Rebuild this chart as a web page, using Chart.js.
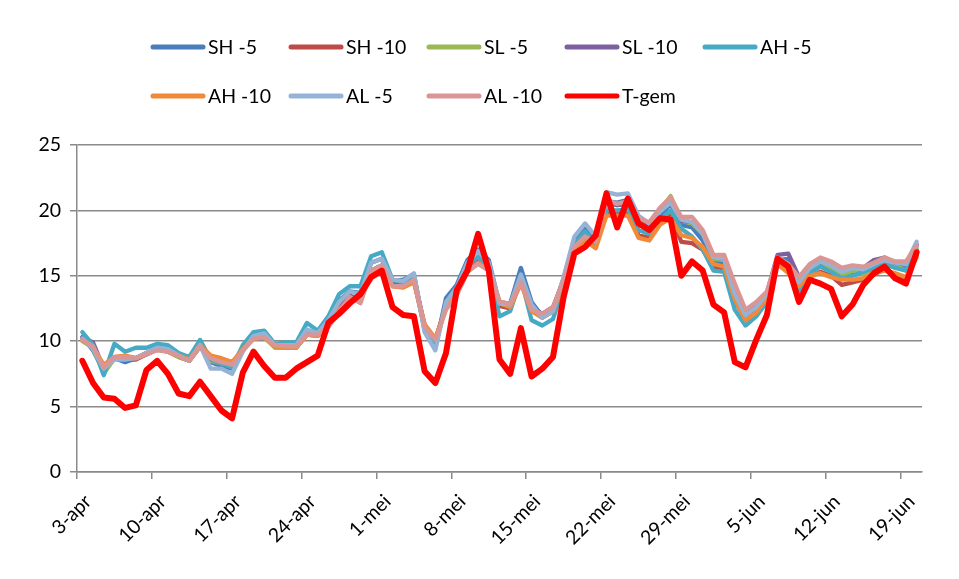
<!DOCTYPE html>
<html>
<head>
<meta charset="utf-8">
<script src="https://cdn.jsdelivr.net/npm/chart.js@4.4.1/dist/chart.umd.min.js"></script>
<style>
  html, body { margin: 0; padding: 0; background: #ffffff; }
  canvas { display: block; }
</style>
</head>
<body>
<canvas id="chart" width="959" height="579"></canvas>
<script>
// Daily temperatures, 3 April to 20 June (79 days)
const tickLabels = ['3-apr', '10-apr', '17-apr', '24-apr', '1-mei', '8-mei', '15-mei', '22-mei', '29-mei', '5-jun', '12-jun', '19-jun'];
const tickDays = [0, 7, 14, 21, 28, 35, 42, 49, 56, 63, 70, 77];

const seriesNames = ['SH -5', 'SH -10', 'SL -5', 'SL -10', 'AH -5', 'AH -10', 'AL -5', 'AL -10', 'T-gem'];
const seriesColors = ['#4a7ebb', '#be4b48', '#98b954', '#7d60a0', '#46aac5', '#f08a38', '#95b3d7', '#d99694', '#ff0000'];

const sh5 = [10.3, 9.3, 7.7, 8.7, 8.4, 8.7, 9.1, 9.5, 9.3, 8.9, 8.6, 9.8, 8.4, 8.1, 7.9, 9.4, 10.4, 10.5, 9.6, 9.6,
  9.6, 10.8, 10.6, 11.5, 13.1, 13.8, 13.7, 16.0, 16.3, 14.6, 14.7, 15.1, 10.9, 9.5, 13.3, 14.3, 16.2, 17.0, 16.2, 12.8,
  12.9, 15.6, 13.0, 11.9, 12.4, 14.8, 17.8, 18.7, 17.6, 20.7, 20.6, 20.8, 18.9, 18.6, 19.6, 20.5, 18.9, 18.7, 17.7, 16.2,
  15.9, 13.4, 11.8, 12.4, 13.5, 16.2, 16.3, 14.4, 15.5, 15.9, 15.5, 14.9, 15.1, 15.2, 15.7, 16.0, 15.8, 15.6, 17.3];
const sh10 = [10.2, 9.6, 7.8, 8.7, 8.6, 8.6, 9.0, 9.4, 9.2, 8.8, 8.5, 9.6, 8.6, 8.3, 8.1, 9.3, 10.2, 10.3, 9.6, 9.5,
  9.5, 10.5, 10.4, 11.1, 12.4, 13.4, 13.2, 15.3, 15.7, 14.3, 14.2, 14.6, 11.0, 10.0, 12.7, 13.7, 15.5, 16.2, 15.6, 12.7,
  12.5, 14.6, 12.4, 11.8, 12.3, 14.5, 17.1, 17.9, 17.3, 19.9, 19.8, 19.9, 18.1, 17.9, 19.0, 19.6, 17.6, 17.5, 17.0, 15.7,
  15.5, 13.1, 11.7, 12.3, 13.4, 16.0, 15.5, 14.1, 14.9, 15.3, 15.0, 14.3, 14.5, 14.7, 15.1, 15.5, 15.1, 14.7, 16.6];
const sl5 = [10.0, 9.5, 7.5, 8.7, 8.7, 8.7, 9.0, 9.4, 9.2, 8.8, 8.5, 9.6, 8.5, 8.3, 8.1, 9.3, 10.2, 10.3, 9.5, 9.5,
  9.5, 10.5, 10.4, 11.2, 12.5, 13.4, 13.1, 15.4, 15.8, 14.3, 14.3, 14.7, 11.2, 10.1, 12.6, 13.7, 15.4, 16.1, 15.5, 12.9,
  12.7, 14.7, 12.5, 11.9, 12.4, 14.6, 17.3, 18.2, 17.6, 20.6, 20.4, 20.6, 19.0, 18.8, 20.0, 21.1, 19.2, 19.0, 18.2, 16.3,
  16.2, 13.8, 12.0, 12.7, 13.6, 16.2, 15.8, 14.6, 15.5, 16.1, 15.6, 15.0, 15.4, 15.1, 15.6, 15.9, 15.8, 15.4, 17.1];
const sl10 = [10.3, 9.9, 7.9, 8.7, 8.8, 8.7, 9.0, 9.4, 9.3, 8.9, 8.5, 9.6, 8.6, 8.4, 8.2, 9.4, 10.3, 10.4, 9.7, 9.6,
  9.6, 10.6, 10.5, 11.2, 12.5, 13.5, 13.1, 15.4, 15.8, 14.3, 14.3, 14.8, 11.2, 10.1, 12.7, 13.7, 15.5, 16.2, 15.6, 13.0,
  12.8, 14.8, 12.6, 12.1, 12.6, 14.7, 17.3, 18.1, 17.5, 20.6, 20.4, 20.5, 19.2, 18.9, 20.1, 20.8, 19.2, 19.1, 18.2, 16.4,
  16.3, 14.0, 12.2, 12.8, 13.7, 16.6, 16.7, 14.9, 15.8, 16.3, 16.0, 15.4, 15.7, 15.6, 16.2, 16.4, 16.0, 15.9, 17.4];
const ah5 = [10.7, 9.7, 7.4, 9.8, 9.2, 9.5, 9.5, 9.8, 9.7, 9.1, 8.8, 10.1, 8.6, 8.3, 8.0, 9.7, 10.7, 10.8, 9.8, 9.9,
  9.9, 11.4, 10.8, 11.9, 13.6, 14.2, 14.2, 16.5, 16.8, 14.7, 14.5, 15.0, 10.8, 9.6, 12.9, 14.0, 15.8, 16.5, 15.6, 11.9,
  12.3, 14.8, 11.6, 11.2, 11.7, 14.2, 17.4, 18.4, 17.4, 20.0, 20.0, 20.1, 18.5, 18.2, 19.3, 20.0, 18.6, 18.0, 17.0, 15.4,
  15.3, 12.4, 11.2, 11.9, 13.0, 16.0, 15.5, 13.8, 15.2, 15.7, 15.3, 14.8, 15.0, 15.3, 15.6, 15.9, 15.6, 15.4, 17.0];
const ah10 = [10.1, 9.5, 8.2, 8.8, 8.9, 8.7, 9.1, 9.4, 9.2, 8.9, 8.6, 9.7, 8.9, 8.7, 8.4, 9.4, 10.2, 10.3, 9.6, 9.5,
  9.5, 10.5, 10.4, 11.2, 12.4, 13.3, 13.1, 15.2, 15.6, 14.2, 14.1, 14.5, 11.3, 10.2, 12.5, 13.6, 15.3, 16.0, 15.4, 12.9,
  12.6, 14.4, 12.3, 11.8, 12.3, 14.4, 17.0, 17.7, 17.1, 19.6, 19.6, 19.6, 17.9, 17.7, 18.9, 19.4, 18.1, 17.9, 17.2, 15.9,
  15.7, 13.2, 11.6, 12.2, 13.3, 15.9, 15.2, 14.2, 15.0, 15.2, 14.9, 14.7, 14.7, 14.8, 15.2, 15.4, 15.2, 14.9, 16.4];
const al5 = [10.2, 9.4, 7.9, 8.6, 8.6, 8.7, 9.1, 9.5, 9.4, 8.9, 8.5, 9.7, 7.9, 7.9, 7.5, 9.2, 10.4, 10.6, 9.7, 9.7,
  9.7, 10.9, 10.6, 11.6, 13.0, 13.8, 13.6, 16.0, 16.3, 14.7, 14.6, 15.2, 10.7, 9.3, 13.0, 14.1, 16.0, 16.9, 16.0, 12.9,
  12.8, 15.1, 12.8, 11.8, 12.3, 14.9, 18.0, 19.0, 18.0, 21.4, 21.2, 21.3, 19.6, 19.0, 19.9, 20.6, 19.3, 19.1, 18.2, 16.4,
  16.3, 13.6, 12.0, 12.6, 13.6, 16.2, 15.7, 14.5, 15.6, 16.1, 15.8, 15.3, 15.6, 15.5, 15.9, 16.2, 16.0, 15.9, 17.6];
const al10 = [10.1, 9.6, 8.0, 8.8, 8.8, 8.7, 9.0, 9.3, 9.2, 8.9, 8.5, 9.6, 8.7, 8.4, 8.2, 9.3, 10.2, 10.3, 9.7, 9.6,
  9.6, 10.5, 10.5, 11.1, 12.2, 13.4, 12.9, 15.4, 15.8, 14.2, 14.2, 14.7, 11.1, 10.1, 12.4, 13.5, 15.3, 15.9, 15.4, 13.1,
  12.8, 14.5, 12.4, 12.1, 12.6, 14.7, 17.2, 18.0, 17.6, 20.8, 20.5, 20.7, 19.4, 19.1, 20.2, 21.0, 19.5, 19.5, 18.5, 16.6,
  16.6, 14.4, 12.4, 13.0, 13.8, 16.4, 15.9, 14.9, 15.9, 16.4, 16.1, 15.6, 15.8, 15.7, 16.0, 16.4, 16.1, 16.1, 17.3];
const tGem = [8.5, 6.8, 5.7, 5.6, 4.9, 5.1, 7.8, 8.5, 7.5, 6.0, 5.8, 6.9, 5.8, 4.7, 4.1, 7.6, 9.2, 8.1, 7.2, 7.2,
  7.9, 8.4, 8.9, 11.4, 12.1, 12.9, 13.6, 14.9, 15.4, 12.6, 12.0, 11.9, 7.7, 6.8, 9.1, 13.9, 15.4, 18.2, 15.4, 8.6,
  7.5, 11.0, 7.3, 7.9, 8.8, 13.4, 16.7, 17.2, 18.1, 21.3, 18.7, 20.9, 19.0, 18.5, 19.4, 19.3, 15.0, 16.1, 15.4, 12.8,
  12.2, 8.4, 8.0, 10.1, 12.0, 16.3, 15.7, 13.0, 14.7, 14.4, 14.0, 11.9, 12.8, 14.3, 15.2, 15.7, 14.8, 14.4, 16.8];

const seriesValues = [sh5, sh10, sl5, sl10, ah5, ah10, al5, al10, tGem];
const FONT = 'Lato, "Liberation Sans", sans-serif';
const AXIS_GREY = '#8a8a8a';

// Each day sits in the middle of its one-day band on the date axis
const datasets = seriesValues.map((vals, s) => ({
  label: seriesNames[s],
  data: vals.map((v, i) => ({ x: i + 0.5, y: v })),
  borderColor: seriesColors[s],
  backgroundColor: seriesColors[s],
  borderWidth: s === seriesValues.length - 1 ? 6 : 4.3,
  borderJoinStyle: 'round',
  borderCapStyle: 'round',
  pointRadius: 0,
  tension: 0,
  fill: false,
  order: seriesValues.length - 1 - s
}));

// Two-row legend laid out on a fixed grid above the plot
const gridLegend = {
  id: 'gridLegend',
  afterDraw(chart) {
    const ctx = chart.ctx;
    const colX = [151, 289, 427, 565, 703];
    const rowY = [47, 96];
    ctx.save();
    ctx.font = '19.5px ' + FONT;
    ctx.textBaseline = 'middle';
    ctx.textAlign = 'left';
    seriesNames.forEach((name, k) => {
      const x = colX[k % 5];
      const y = rowY[Math.floor(k / 5)];
      ctx.strokeStyle = seriesColors[k];
      ctx.lineWidth = 5;
      ctx.lineCap = 'round';
      ctx.beginPath();
      ctx.moveTo(x + 2, y);
      ctx.lineTo(x + 52, y);
      ctx.stroke();
      ctx.fillStyle = '#000000';
      ctx.fillText(name, x + 57, y + 1);
    });
    ctx.restore();
  }
};

new Chart(document.getElementById('chart'), {
  type: 'line',
  data: { datasets },
  plugins: [gridLegend],
  options: {
    responsive: false,
    devicePixelRatio: 1,
    animation: false,
    layout: { padding: { left: 10, top: 145, right: 37, bottom: 0 } },
    plugins: {
      legend: { display: false },
      tooltip: { enabled: false }
    },
    scales: {
      x: {
        type: 'linear',
        min: 0,
        max: 79,
        afterBuildTicks(scale) {
          scale.ticks = tickDays.map(v => ({ value: v }));
        },
        afterFit(scale) { scale.height = 107; },
        ticks: {
          autoSkip: false,
          minRotation: 45,
          maxRotation: 45,
          padding: 11,
          labelOffset: 11,
          color: '#000000',
          font: { family: FONT, size: 19.5 },
          callback(value, index) { return tickLabels[index]; }
        },
        grid: {
          drawOnChartArea: false,
          drawTicks: true,
          tickLength: 7,
          color: AXIS_GREY,
          lineWidth: 1.5
        },
        border: { display: true, color: AXIS_GREY, width: 1.5 }
      },
      y: {
        min: 0,
        max: 25,
        afterFit(scale) { scale.width = 67; },
        ticks: {
          stepSize: 5,
          padding: 9,
          color: '#000000',
          font: { family: FONT, size: 19.5 }
        },
        grid: {
          color: AXIS_GREY,
          lineWidth: 1.5,
          tickLength: 7
        },
        border: { display: true, color: AXIS_GREY, width: 1.5 }
      }
    }
  }
});
</script>
</body>
</html>
